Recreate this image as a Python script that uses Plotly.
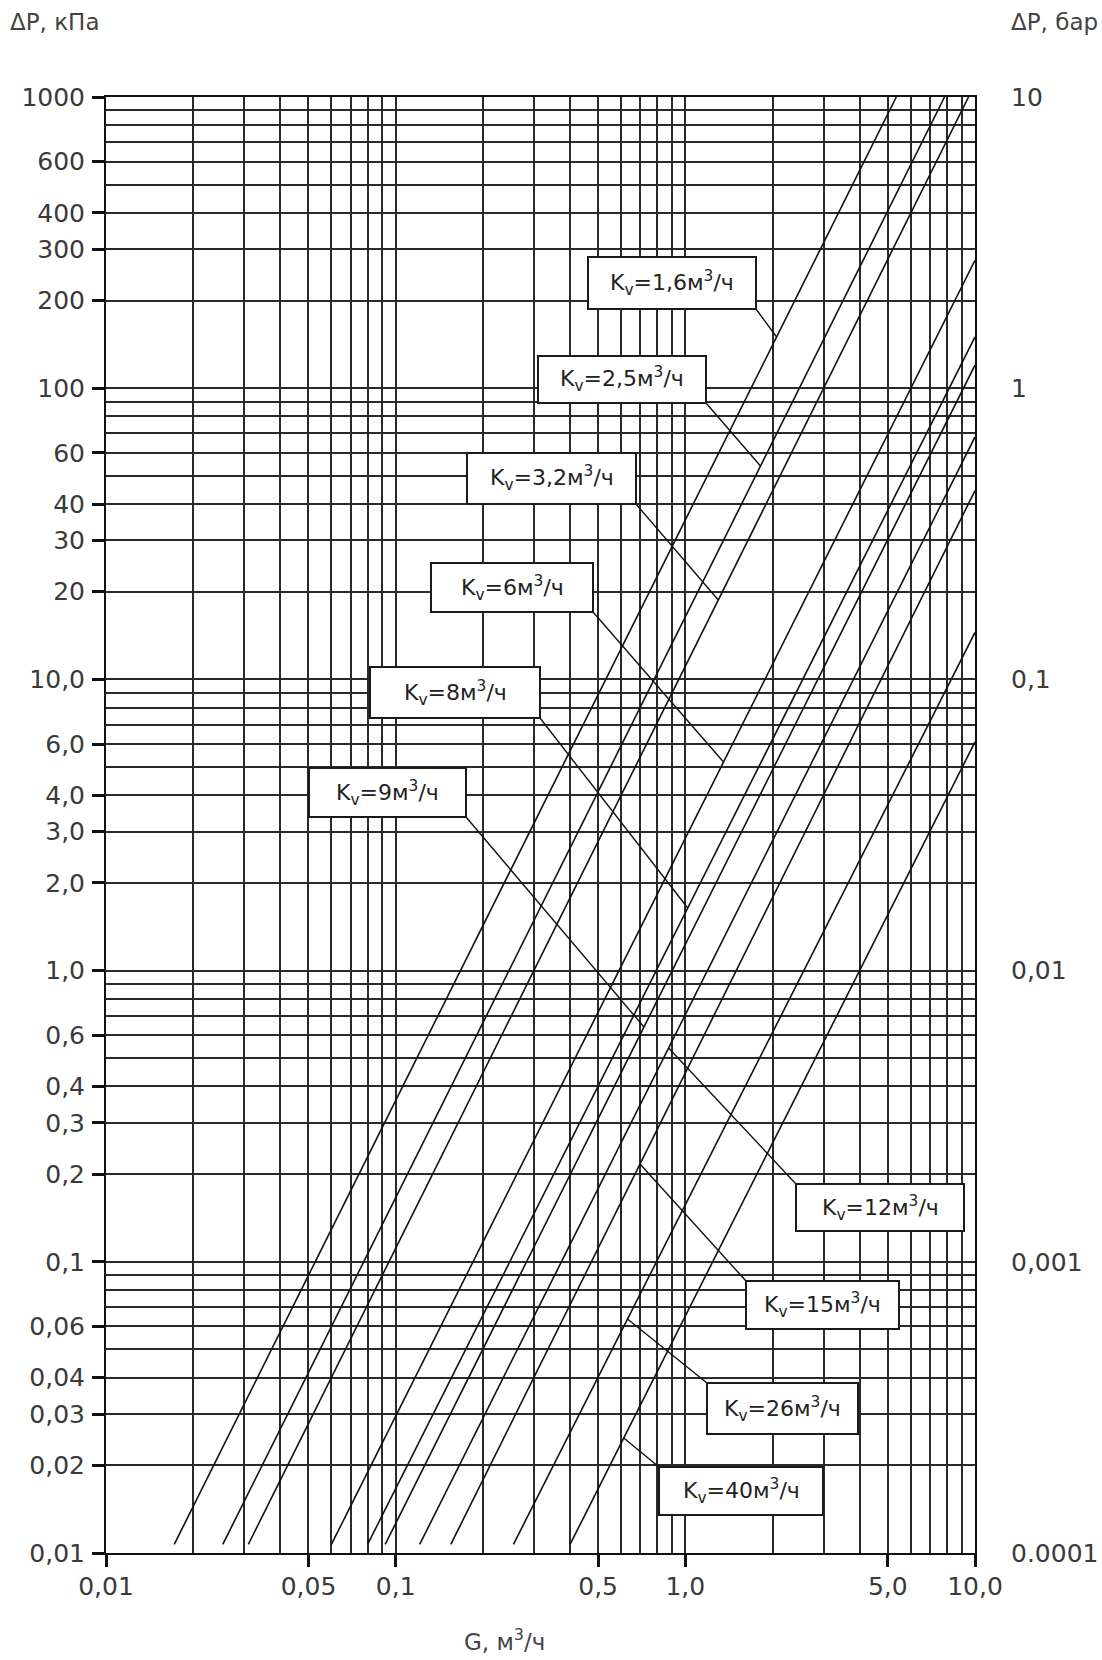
import math
import plotly.graph_objects as go

# ---------------- data ----------------
# Kv curves: start and end point of every straight (log-log) line, dP in kPa, G in m3/h
kv_labels = ["1,6", "2,5", "3,2", "6", "8", "9", "12", "15", "26", "40"]
g_start = [0.0172, 0.0253, 0.031, 0.060, 0.080, 0.092, 0.121, 0.155, 0.255, 0.40]
dp_start = [0.0107, 0.0107, 0.0107, 0.0107, 0.0107, 0.0107, 0.0107, 0.0107, 0.0107, 0.0107]
g_end = [5.35, 7.85, 9.5, 10, 10, 10, 10, 10, 10, 10]
dp_end = [1000, 1000, 1000, 275, 150, 120, 68, 44.5, 14.5, 6.1]

# axis ticks / labels
x_tickvals = [0.01, 0.05, 0.1, 0.5, 1, 5, 10]
x_ticktext = ["0,01", "0,05", "0,1", "0,5", "1,0", "5,0", "10,0"]
y_tickvals = [1000, 600, 400, 300, 200, 100, 60, 40, 30, 20, 10, 6, 4, 3, 2, 1,
              0.6, 0.4, 0.3, 0.2, 0.1, 0.06, 0.04, 0.03, 0.02, 0.01]
y_ticktext = ["1000", "600", "400", "300", "200", "100", "60", "40", "30", "20",
              "10,0", "6,0", "4,0", "3,0", "2,0", "1,0", "0,6", "0,4", "0,3", "0,2",
              "0,1", "0,06", "0,04", "0,03", "0,02", "0,01"]
y2_tickvals = [10, 1, 0.1, 0.01, 0.001, 0.0001]
y2_ticktext = ["10", "1", "0,1", "0,01", "0,001", "0.0001"]
x_grid = [m * 10 ** e for e in (-2, -1, 0) for m in range(1, 10)] + [10]
y_grid = [m * 10 ** e for e in (-2, -1, 0, 1, 2) for m in range(1, 10)] + [1000]

# ---------------- layout geometry (pixels) ----------------
W, H = 1102, 1660
L, R, T, B = 106, 975, 97, 1553   # plot frame in pixels
PW, PH = R - L, B - T


def px_to_paper(px, py):
    return (px - L) / PW, (B - py) / PH


def px_to_data(px, py):
    return 10 ** (-2 + 3 * (px - L) / PW), 10 ** (-2 + 5 * (B - py) / PH)


# label boxes: (line index, x0, x1, y0, y1, leader corner, leader target y px)
label_boxes = [
    (0, 588, 756, 257, 309, "br", 337),
    (1, 538, 706, 356, 403, "br", 466),
    (2, 467, 636, 453, 504, "br", 600),
    (3, 431, 593, 563, 612, "br", 762),
    (4, 370, 540, 667, 718, "br", 908),
    (5, 309, 466, 768, 817, "br", 1027),
    (6, 796, 964, 1184, 1231, "tl", 1048),
    (7, 746, 899, 1281, 1329, "tl", 1164),
    (8, 707, 858, 1383, 1434, "tl", 1319),
    (9, 659, 823, 1467, 1515, "tl", 1438),
]

fig = go.Figure()

for i in range(len(kv_labels)):
    fig.add_trace(go.Scatter(
        x=[g_start[i], g_end[i]], y=[dp_start[i], dp_end[i]],
        mode="lines", line=dict(color="#111111", width=1.6),
        showlegend=False, hoverinfo="skip"))

# invisible trace for the right (bar) axis
fig.add_trace(go.Scatter(x=[0.01], y=[0.0001], yaxis="y2", mode="markers",
                         marker=dict(opacity=0), showlegend=False, hoverinfo="skip"))

shapes = []
annotations = []
for idx, x0, x1, y0, y1, corner, ty in label_boxes:
    # point on the curve at the target height (log interpolation along the line)
    _, dp_t = px_to_data(L, ty)
    lg0, lg1 = math.log10(g_start[idx]), math.log10(g_end[idx])
    ld0, ld1 = math.log10(dp_start[idx]), math.log10(dp_end[idx])
    lg_t = lg0 + (math.log10(dp_t) - ld0) * (lg1 - lg0) / (ld1 - ld0)
    cx, cy = (x1, y1) if corner == "br" else (x0, y0)
    gx, gy = px_to_data(cx, cy)
    shapes.append(dict(type="line", xref="x", yref="y", x0=gx, y0=gy,
                       x1=10 ** lg_t, y1=dp_t, layer="above",
                       line=dict(color="#111111", width=1.4)))
    px0, py0 = px_to_paper(x0, y1)
    px1, py1 = px_to_paper(x1, y0)
    shapes.append(dict(type="rect", xref="paper", yref="paper", x0=px0, y0=py0,
                       x1=px1, y1=py1, layer="above", fillcolor="white",
                       line=dict(color="#1a1a1a", width=2)))
    mx, my = px_to_paper((x0 + x1) / 2, (y0 + y1) / 2)
    annotations.append(dict(
        xref="paper", yref="paper", x=mx, y=my, xanchor="center", yanchor="middle",
        showarrow=False,
        text="K<sub>v</sub>=" + kv_labels[idx] + "м<sup>3</sup>/ч",
        font=dict(family="DejaVu Sans", size=22, color="#222222")))

title_font = dict(family="DejaVu Sans", size=23, color="#444444")
for txt, (px, py), anchor in [("ΔP, кПа", (8, 22), "left"),
                              ("ΔP, бар", (1100, 22), "right"),
                              ("G, м<sup>3</sup>/ч", (504, 1640), "center")]:
    ax_, ay_ = px_to_paper(px, py)
    annotations.append(dict(xref="paper", yref="paper", x=ax_, y=ay_,
                            xanchor=anchor, yanchor="middle", showarrow=False,
                            text=txt, font=title_font))

tick_font = dict(family="DejaVu Sans", size=25, color="#3a3a3a")
grid_col = "#2a2a2a"

fig.update_layout(
    width=W, height=H,
    margin=dict(l=L, r=W - R, t=T, b=H - B, pad=0, autoexpand=False),
    paper_bgcolor="white", plot_bgcolor="white",
    shapes=shapes, annotations=annotations,
    xaxis=dict(type="log", range=[-2, 1], tickmode="array", automargin=False,
               tickvals=x_tickvals, ticktext=x_ticktext, tickfont=tick_font,
               ticks="outside", ticklen=12, tickwidth=3, tickcolor="#111111",
               ticklabelstandoff=-2,
               showgrid=True, gridcolor=grid_col, gridwidth=1.7,
               minor=dict(tickmode="array", tickvals=x_grid, showgrid=True,
                          gridcolor=grid_col, gridwidth=1.7, ticks=""),
               showline=True, linecolor="#111111", linewidth=2, mirror=True,
               zeroline=False),
    yaxis=dict(type="log", range=[-2, 3], tickmode="array", automargin=False,
               tickvals=y_tickvals, ticktext=y_ticktext, tickfont=tick_font,
               ticks="outside", ticklen=12, tickwidth=3, tickcolor="#111111",
               ticklabelstandoff=2,
               showgrid=True, gridcolor=grid_col, gridwidth=1.7,
               minor=dict(tickmode="array", tickvals=y_grid, showgrid=True,
                          gridcolor=grid_col, gridwidth=1.7, ticks=""),
               showline=True, linecolor="#111111", linewidth=2, mirror=True,
               zeroline=False),
    yaxis2=dict(type="log", range=[-4, 1], overlaying="y", side="right", anchor="x",
                automargin=False,
                tickmode="array", tickvals=y2_tickvals, ticktext=y2_ticktext,
                tickfont=tick_font, ticks="outside", ticklen=30,
                tickcolor="rgba(0,0,0,0)", showgrid=False, showline=False,
                zeroline=False),
)

fig.write_html(
    "out.html",
    config={"displayModeBar": False},
    post_script=("document.documentElement.style.overflow='hidden';"
                 "document.body.style.overflow='hidden';"
                 "document.body.style.margin='0px';"))
